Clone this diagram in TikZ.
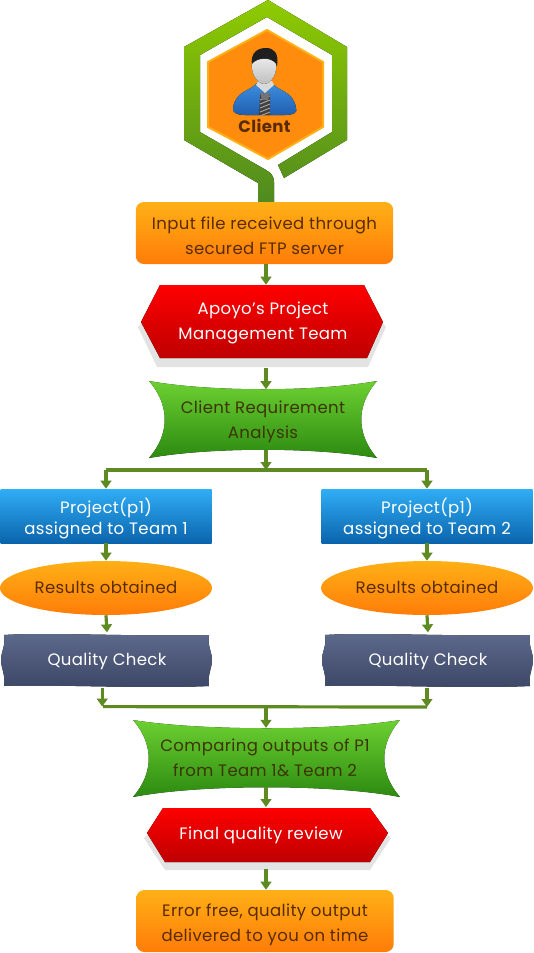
\documentclass[tikz,border=0pt]{standalone}
\usepackage{fontspec}
\usepackage{xcolor}
\usetikzlibrary{arrows.meta, shapes.geometric}
\setmainfont[LetterSpace=2.2]{Poppins}

\definecolor{flowgreen}{HTML}{5E8A22}
\definecolor{ringtop}{HTML}{8FCB00}
\definecolor{ringbot}{HTML}{4F8A20}
\definecolor{orangetop}{HTML}{FFB016}
\definecolor{orangebot}{HTML}{FF7C08}
\definecolor{redtop}{HTML}{FF0000}
\definecolor{redbot}{HTML}{BE0000}
\definecolor{greentop}{HTML}{6CD032}
\definecolor{greenbot}{HTML}{2C8A10}
\definecolor{bluetop}{HTML}{30AEF6}
\definecolor{bluebot}{HTML}{0A64AC}
\definecolor{slatetop}{HTML}{5E6A8C}
\definecolor{slatebot}{HTML}{3C4666}
\definecolor{shirttop}{HTML}{3F8FE0}
\definecolor{shirtbot}{HTML}{1F5FB0}
\definecolor{browntext}{HTML}{5A2A00}
\definecolor{olivetext}{HTML}{3E3400}

\tikzset{
    drop/.style={execute at begin node=\rule{0pt}{#1}},
    lbl/.style={inner sep=0pt, align=center, font=\fontsize{12.4pt}{18.4pt}\selectfont,
        drop=0pt, execute at end node=\rule[-3.5pt]{0pt}{3.5pt}},
    flow/.style={draw=flowgreen, line width=2.4pt, -{Triangle[length=6pt,width=8pt]}},
    barline/.style={draw=flowgreen, line width=2.4pt},
    orangebox/.style={lbl, text=browntext, rounded corners=6pt, top color=orangetop, bottom color=orangebot,
        minimum width=193pt, minimum height=46.5pt},
    bluebox/.style={lbl, text=white, top color=bluetop, bottom color=bluebot,
        font=\fontsize{12.4pt}{15.75pt}\selectfont, minimum width=158.25pt, minimum height=40.5pt},
    resultoval/.style={lbl, text=browntext, ellipse, top color=orangetop, bottom color=orangebot,
        minimum width=159pt, minimum height=40.5pt},
    redshape/.style={top color=redtop, bottom color=redbot},
    greenshape/.style={top color=greentop, bottom color=greenbot},
    slateshape/.style={top color=slatetop, bottom color=slatebot},
    shadowshape/.style={fill=black!11}
}

\begin{document}
\begin{tikzpicture}[x=0.75pt, y=-0.75pt]
    \useasboundingbox (0,0) rectangle (533,953);

    % Positions shared by the connectors
    \coordinate (trunk) at (266,470);
    \coordinate (merge) at (266,707);

    % Green ring around the client
    \fill[top color=ringtop, bottom color=ringbot]
        (278,165) -- (332,132) -- (332,55) -- (267,17) -- (200,55) -- (200,132) -- (266,170)
        .. controls (271,173) and (274,176) .. (274,182) -- (274,203) -- (258,203) -- (258,183)
        -- (184,140) -- (184,47) -- (268,0) -- (347,47) -- (347,140) -- (284,178) -- cycle;

    % Orange hexagon
    \fill[fill=orangebot!70!orangetop, draw=orangetop, line width=1.5pt]
        (267,30) -- (323,62) -- (323,127) -- (268,159) -- (208,127) -- (208,62) -- cycle;

    % The client figure
    \fill[top color=shirttop, bottom color=shirtbot]
        (258,82) .. controls (250,92) and (236,90) .. (233,108)
        .. controls (232,112) and (236,115) .. (245,115) -- (285,115)
        .. controls (294,115) and (298,112) .. (296,108)
        .. controls (293,90) and (278,92) .. (271,82) -- cycle;
    \fill[black!75] (260,94) -- (270,94) -- (270,115) -- (259,115) -- cycle;
    \foreach \s in {98,102,...,114} {
        \draw[black!35, line width=0.7pt] (260,\s+2) -- (270,\s-2);
    }
    \fill[black!55] (260,93) -- (270,93) -- (268,100) -- (262,100) -- cycle;
    \fill[white!85!black] (256,85) -- (265,93) -- (274,85) -- (272,81) -- (258,81) -- cycle;
    \fill[black!88] (252,66) .. controls (250,52) and (258,48) .. (266,48)
        .. controls (274,48) and (279,53) .. (277,66) .. controls (270,60) and (258,60) .. (252,66) -- cycle;
    \fill[top color=white!92!black, bottom color=black!25]
        (252,64) .. controls (258,57) and (271,57) .. (276,64)
        .. controls (277,74) and (272,83) .. (264,84)
        .. controls (257,83) and (251,74) .. (252,64) -- cycle;

    \node[lbl, font=\bfseries\fontsize{12.4pt}{14pt}\selectfont, text=browntext, drop=12pt] (client) at (264.5,127) {Client};

    % Input box
    \node[orangebox, drop=35pt] (input) at (264.5,233) {Input file received through\\secured FTP server};

    % Project management team
    \fill[shadowshape] (138,327) -- (157,367) -- (368,367) -- (386,327) -- (364,300) -- (160,300) -- cycle;
    \fill[redshape] (160,285) -- (364,285) -- (383,322) -- (367,358) -- (160,358) -- (141,322) -- cycle;
    \node[lbl, text=white, minimum width=242pt, minimum height=54.75pt, drop=30pt] (pmt) at (263,321.5) {Apoyo's Project\\Management Team};

    % Requirement analysis
    \fill[greenshape] (149,381) .. controls (210,392) and (316,392) .. (377,381)
        .. controls (356,405) and (356,434) .. (377,458)
        .. controls (316,447) and (210,447) .. (149,458)
        .. controls (170,434) and (170,405) .. (149,381) -- cycle;
    \node[lbl, text=olivetext, minimum width=170pt, minimum height=45pt, drop=32pt] (req) at (263,419.5) {Client Requirement\\Analysis};

    % Both teams
    \foreach \t/\cx in {1/106,2/427} {
        \node[bluebox, drop=30.5pt] (team\t) at (\cx,516) {Project(p1)\\assigned to Team \t};
        \node[resultoval, drop=12pt] (result\t) at (\cx,588) {Results obtained};

        \fill[slateshape] (\cx-102,635) .. controls (\cx-60,632) and (\cx+40,637) .. (\cx+103,635)
            .. controls (\cx+101,645) and (\cx+106,652) .. (\cx+106,660)
            .. controls (\cx+106,668) and (\cx+101,676) .. (\cx+103,686)
            .. controls (\cx+40,689) and (\cx-60,684) .. (\cx-102,686)
            .. controls (\cx-100,676) and (\cx-105,668) .. (\cx-105,660)
            .. controls (\cx-105,652) and (\cx-100,645) .. (\cx-102,635) -- cycle;
        \node[lbl, text=white, minimum width=155pt, minimum height=41pt, drop=12pt] (check\t) at (\cx+1,660) {Quality Check};

        \draw[flow] (team\t.north |- trunk) -- (team\t.north);
        \draw[flow] (team\t.south) -- (result\t.north);
        \draw[flow] (result\t.south) -- (check\t.north);
    }

    % Comparing the outputs
    \fill[greenshape] (133,720) .. controls (200,731) and (333,731) .. (400,720)
        .. controls (379,744) and (379,773) .. (400,797)
        .. controls (333,784) and (200,784) .. (133,797)
        .. controls (154,773) and (154,744) .. (133,720) -- cycle;
    \node[lbl, text=olivetext, minimum width=190pt, minimum height=44pt, drop=32pt] (compare) at (265,757.5) {Comparing outputs of P1\\from Team 1\& Team 2};

    % Final review
    \fill[shadowshape] (144,838) -- (165,870) -- (370,870) -- (391,838) -- (370,820) -- (165,820) -- cycle;
    \fill[redshape] (163,808) -- (370,808) -- (388,833) -- (370,862) -- (165,862) -- (147,833) -- cycle;
    \node[lbl, text=white, minimum width=180pt, minimum height=40pt, drop=12pt] (review) at (261,834) {Final quality review};

    % Delivered output
    \node[orangebox, drop=33.5pt] (output) at (265,921) {Error free, quality output\\delivered to you on time};

    % Connectors
    \draw[flow] (input.south -| trunk) -- (pmt.north -| trunk);
    \draw[flow, shorten <=7.5pt] (pmt.south -| trunk) -- (req.north -| trunk);
    \draw[flow] (req.south -| trunk) -- (trunk);
    \draw[barline] (team1.north |- trunk) -- (team2.north |- trunk);
    \draw[flow] (check1.south -| team1.west) ++(102,0) -- ++(0,19);
    \draw[flow] (check2.south -| team2) -- (team2 |- merge);
    \draw[barline] (check1.south -| team1) ++(-3,19) -- (team2 |- merge);
    \draw[flow] (merge) -- (compare.north -| merge);
    \draw[flow] (compare.south -| merge) -- (review.north -| merge);
    \draw[flow, shorten <=6pt] (review.south -| merge) -- (output.north -| merge);
\end{tikzpicture}
\end{document}
